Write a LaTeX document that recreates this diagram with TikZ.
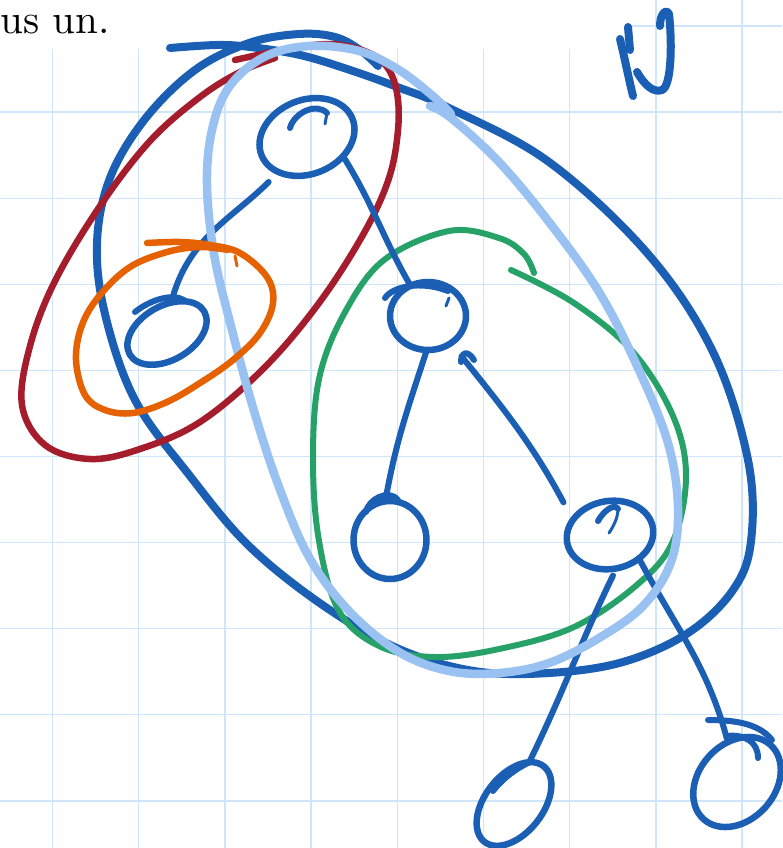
\documentclass[tikz,border=0pt]{standalone}
\usetikzlibrary{shapes.geometric}
\definecolor{inkblue}{HTML}{1A5FB4}
\definecolor{inkred}{HTML}{A51D2D}
\definecolor{inkorange}{HTML}{E66100}
\definecolor{inkgreen}{HTML}{26A269}
\definecolor{inklight}{HTML}{99C1F1}
\definecolor{gridc}{HTML}{CFE5FB}
\begin{document}
\begin{tikzpicture}[x=1pt,y=-1pt,
  gridln/.style={draw=gridc, line width=1.3pt},
  pen/.style={line cap=round, line join=round},
  edge/.style={pen, draw=inkblue, line width=6pt},
  thin edge/.style={pen, draw=inkblue, line width=3pt},
  vert/.style={pen, draw=inkblue, line width=6.5pt, ellipse, inner sep=0pt, outer sep=0pt},
  bigloop/.style={pen, draw=inkblue, line width=8pt},
  redloop/.style={pen, draw=inkred, line width=6.5pt},
  orangeloop/.style={pen, draw=inkorange, line width=6.5pt},
  greenloop/.style={pen, draw=inkgreen, line width=6pt},
  lightloop/.style={pen, draw=inklight, line width=8.5pt},
  letter/.style={pen, draw=inkblue, line width=8pt}
]
\useasboundingbox (0,0) rectangle (782,848);
\fill[white] (0,0) rectangle (782,848);
% grid
\foreach \i in {0,...,8} \draw[gridln] ({52.5+86.2*\i},0) -- ({52.5+86.2*\i},848);
\foreach \i in {0,...,9} \draw[gridln] (0,{26+86.1*\i}) -- (782,{26+86.1*\i});
\fill[white] (0,0) rectangle (628,49);
% text
\node[anchor=base east, inner sep=0pt, font=\fontsize{10}{12}\selectfont] (txt) at (110,34) {\scalebox{4.1}{us un.}};
% letter U
\draw[letter] (620,39) .. controls (624,55) and (629,80) .. (633,96);
\draw[letter] (628,27) -- (630,50);
\draw[letter] (637,72) .. controls (645,86) and (654,93) .. (662,90) .. controls (672,86) and (672,40) .. (669,14) .. controls (666,8) and (660,14) .. (660,26);
% big dark blue loop
\draw[bigloop] plot[smooth, tension=0.6] coordinates {(170,48) (217,45) (250,47) (300,55) (350,70) (400,88) (449,108) (549,162) (648,254) (713,352) (748,460) (751,541) (733,590) (688,633) (623,662) (549,673) (474,671) (399,649) (324,606) (249,546) (190,476) (135,400) (105,314) (97,243) (110,178) (145,119) (195,70) (249,43) (299,34) (335,37) (360,50) (378,66)};
% red loop
\draw[redloop] plot[smooth, tension=0.6] coordinates {(235,60) (283,50) (330,44) (367,52) (387,67) (397,93) (398,130) (389,178) (364,233) (319,303) (264,368) (200,422) (140,449) (90,459) (45,445) (22,405) (30,346) (55,281) (100,206) (150,141) (200,97) (240,72) (275,58)};
% green loop
\draw[greenloop] plot[smooth, tension=0.6] coordinates {(511,270) (574,303) (633,352) (673,416) (686,476) (673,541) (638,584) (574,627) (499,649) (434,657) (379,646) (339,611) (319,541) (313,460) (319,379) (344,314) (384,260) (449,231) (499,238) (524,254) (534,273)};
% vertices
\node[vert, minimum width=98pt, minimum height=74pt, rotate=22] (n1) at (307,137) {};
\node[vert, minimum width=86pt, minimum height=54pt, rotate=30] (n2) at (167,333) {};
\node[vert, minimum width=76pt, minimum height=68pt] (n3) at (428,316) {};
\node[vert, minimum width=73pt, minimum height=78pt] (n4) at (390,540) {};
\node[vert, minimum width=87pt, minimum height=68pt, rotate=10] (n5) at (610,535) {};
\node[vert, minimum width=96pt, minimum height=58pt, rotate=52] (n6) at (514,804) {};
\node[vert, minimum width=100pt, minimum height=76pt, rotate=48] (n7) at (737,782) {};
% vertex scribbles
\draw[edge] (290,128) .. controls (294,113) and (316,102) .. (327,113);
\draw[thin edge] (327,113) -- (325,124);
\draw[edge] (135,312) .. controls (150,300) and (172,293) .. (184,300);
\draw[edge] (385,298) .. controls (392,287) and (420,280) .. (448,291);
\draw[thin edge] (449,298) -- (446,306);
\draw[edge] (366,512) .. controls (368,500) and (388,488) .. (398,500);
\draw[edge] (598,521) .. controls (604,510) and (615,503) .. (618,509);
\draw[thin edge] (618,509) .. controls (618,518) and (613,527) .. (609,533);
\draw[edge] (493,791) .. controls (503,778) and (517,768) .. (530,762);
\draw[edge] (708,720) .. controls (730,720) and (758,722) .. (772,740);
\draw[edge] (727,736) .. controls (745,734) and (758,742) .. (758,758);
% edges
\draw[edge, shorten <=14pt] (n1.209) to[out=225, in=76] (n2.52);
\draw[edge] (n1.-50) to[out=-58, in=120] (n3);
\draw[edge] (n3.-92) to[out=-108, in=80] (n4.97);
\draw[edge] (461,362) .. controls (461,353) and (467,349) .. (474,360);
\draw[edge, shorten <=17pt, shorten >=20pt] (n3.-50) to[out=-51, in=118] (n5.148);
\draw[edge, shorten <=8pt] (n5.-89) to[out=244, in=64] (n6.18);
\draw[edge, shorten >=4pt] (n5.-49) to[out=-62, in=105] (n7.55);
% light blue loop
\draw[lightloop] plot[smooth, tension=0.6] coordinates {(430,106) (451,118) (499,162) (549,222) (599,292) (638,368) (668,443) (678,508) (671,562) (643,606) (599,638) (549,663) (499,673) (449,671) (399,652) (349,611) (309,557) (279,487) (254,411) (232,330) (214,254) (207,184) (212,130) (229,87) (264,57) (309,46) (359,51) (399,70) (434,97) (451,114)};
% orange loop
\draw[orangeloop] plot[smooth, tension=0.6] coordinates {(147,243) (180,242) (210,245) (240,253) (267,277) (273,303) (260,333) (233,360) (200,383) (167,402) (133,413) (105,410) (85,395) (76,360) (82,325) (100,295) (130,267) (167,252) (200,247) (228,250)};
\draw[pen, draw=inkorange, line width=3pt] (235,256) -- (237,266);
\end{tikzpicture}
\end{document}
